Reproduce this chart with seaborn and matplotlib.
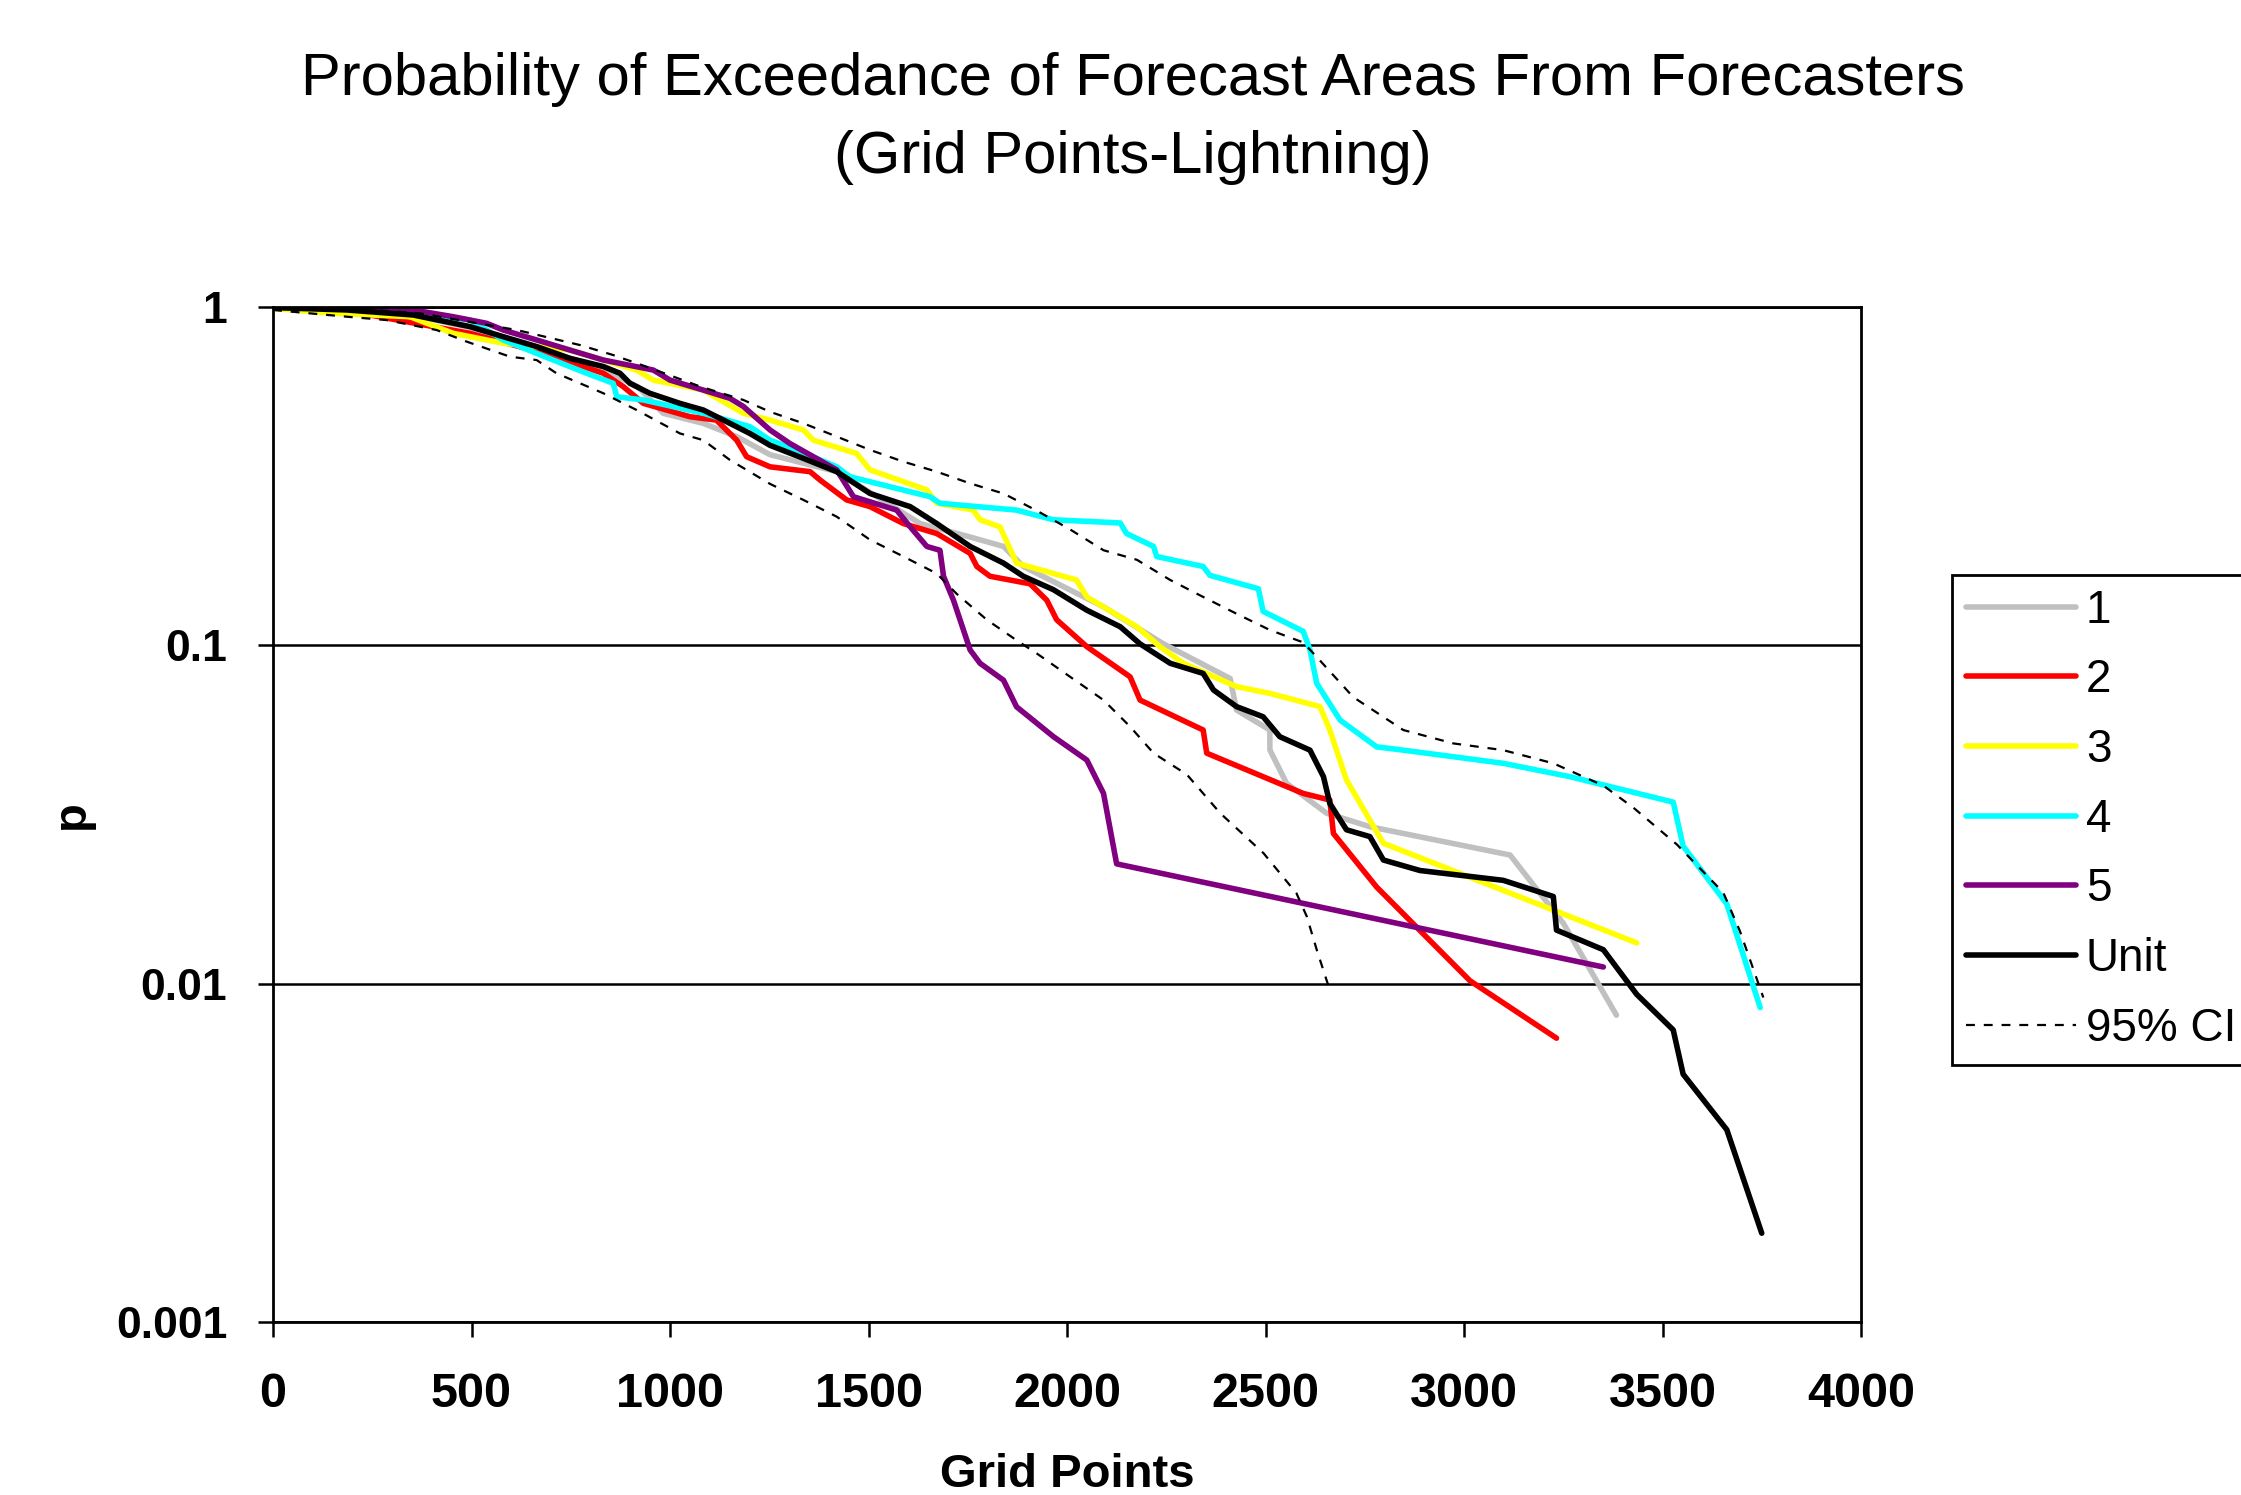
import matplotlib
matplotlib.use("Agg")
import matplotlib.pyplot as plt
import seaborn as sns

# series: grid points vs exceedance probability
x1 = [0, 186, 353, 496, 664, 832, 920, 983, 1084, 1168, 1252, 1420, 1630, 1756, 1840, 1890,
      2092, 2243, 2411, 2427, 2511, 2511, 2553, 2654, 2763, 3116, 3250, 3384]
p1 = [1.0, 0.98, 0.945, 0.87, 0.76, 0.655, 0.58, 0.485, 0.453, 0.414, 0.366, 0.326, 0.229, 0.209,
      0.196, 0.171, 0.130, 0.101, 0.0798, 0.0644, 0.0562, 0.0491, 0.0391, 0.0319, 0.0291, 0.0240,
      0.0151, 0.00807]

x2 = [0, 120, 244, 496, 664, 832, 882, 933, 1050, 1117, 1168, 1193, 1252, 1353, 1378, 1445, 1504,
      1588, 1672, 1756, 1773, 1806, 1907, 1949, 1974, 2050, 2159, 2184, 2343, 2352, 2595, 2662,
      2671, 2780, 3015, 3233]
p2 = [1.0, 0.975, 0.947, 0.836, 0.74, 0.637, 0.582, 0.519, 0.474, 0.463, 0.404, 0.361, 0.337,
      0.326, 0.308, 0.269, 0.257, 0.229, 0.214, 0.187, 0.171, 0.160, 0.152, 0.136, 0.119, 0.0991,
      0.0807, 0.0689, 0.0562, 0.0480, 0.0365, 0.0349, 0.0278, 0.0193, 0.0102, 0.0069]

x3 = [0, 160, 345, 454, 580, 748, 832, 916, 958, 1084, 1185, 1252, 1336, 1361, 1470, 1504, 1647,
      1672, 1764, 1781, 1831, 1873, 2024, 2050, 2176, 2234, 2293, 2427, 2511, 2637, 2662, 2704,
      2797, 3435]
p3 = [0.99, 0.957, 0.936, 0.836, 0.781, 0.746, 0.697, 0.651, 0.608, 0.568, 0.485, 0.463, 0.433,
      0.404, 0.369, 0.330, 0.288, 0.263, 0.251, 0.235, 0.224, 0.175, 0.156, 0.139, 0.1135, 0.0991,
      0.0885, 0.0755, 0.0721, 0.0659, 0.0562, 0.0400, 0.0260, 0.0132]

x4 = [0, 219, 496, 580, 706, 790, 857, 866, 933, 1084, 1201, 1252, 1319, 1420, 1453, 1655, 1680,
      1873, 1966, 2134, 2150, 2218, 2226, 2343, 2360, 2482, 2494, 2595, 2612, 2629, 2688, 2780,
      2847, 3099, 3267, 3527, 3552, 3662, 3746]
p4 = [1.0, 1.0, 0.915, 0.799, 0.697, 0.637, 0.595, 0.543, 0.531, 0.485, 0.443, 0.404, 0.378,
      0.337, 0.315, 0.275, 0.263, 0.251, 0.235, 0.230, 0.214, 0.196, 0.183, 0.171, 0.161, 0.147,
      0.126, 0.110, 0.097, 0.0772, 0.0601, 0.0501, 0.0490, 0.0448, 0.0409, 0.0344, 0.0255, 0.0172,
      0.0085]

x5 = [0, 186, 353, 454, 538, 580, 664, 748, 832, 958, 1000, 1084, 1151, 1185, 1252, 1302, 1420,
      1462, 1571, 1605, 1647, 1680, 1689, 1714, 1756, 1781, 1840, 1873, 1966, 2050, 2092, 2125,
      3351]
p5 = [1.0, 1.0, 0.980, 0.936, 0.895, 0.855, 0.799, 0.746, 0.697, 0.651, 0.608, 0.568, 0.537, 0.508,
      0.433, 0.395, 0.330, 0.275, 0.251, 0.224, 0.196, 0.191, 0.160, 0.136, 0.0969, 0.0885, 0.0789,
      0.0658, 0.0537, 0.0458, 0.0365, 0.0226, 0.0112]

x_unit = [0, 186, 353, 496, 580, 664, 748, 832, 874, 899, 949, 1025, 1084, 1151, 1201, 1252, 1336,
          1420, 1504, 1605, 1672, 1756, 1840, 1890, 1966, 2050, 2134, 2184, 2260, 2343, 2369, 2427,
          2494, 2536, 2612, 2646, 2662, 2704, 2763, 2797, 2889, 3099, 3225, 3233, 3351, 3435, 3527,
          3552, 3662, 3750]
p_unit = [0.996, 0.980, 0.947, 0.875, 0.817, 0.764, 0.705, 0.667, 0.637, 0.595, 0.556, 0.519,
          0.496, 0.453, 0.423, 0.390, 0.357, 0.326, 0.281, 0.257, 0.229, 0.196, 0.175, 0.160, 0.146,
          0.127, 0.1135, 0.101, 0.0885, 0.0826, 0.0738, 0.0659, 0.0615, 0.0537, 0.0490, 0.0409,
          0.0341, 0.0285, 0.0272, 0.0232, 0.0216, 0.0202, 0.0181, 0.0144, 0.0126, 0.0093, 0.0073,
          0.0054, 0.0037, 0.00183]

x_ci_hi = [0, 200, 370, 614, 773, 857, 941, 1076, 1185, 1252, 1336, 1420, 1504, 1588, 1672, 1756,
           1840, 1924, 2008, 2092, 2176, 2260, 2343, 2427, 2511, 2595, 2629, 2721, 2847, 2973, 3099,
           3225, 3351, 3427, 3536, 3653, 3695, 3754]
p_ci_hi = [1.0, 0.99, 0.958, 0.855, 0.772, 0.721, 0.666, 0.582, 0.531, 0.49, 0.453, 0.414, 0.378,
           0.349, 0.326, 0.301, 0.281, 0.250, 0.220, 0.191, 0.179, 0.156, 0.139, 0.124, 0.111,
           0.102, 0.0924, 0.0703, 0.0562, 0.0513, 0.0490, 0.0448, 0.0385, 0.0331, 0.0258, 0.0186,
           0.0143, 0.0091]

x_ci_lo = [0, 186, 286, 412, 488, 597, 664, 714, 832, 916, 1025, 1084, 1151, 1252, 1336, 1420,
           1504, 1588, 1672, 1722, 1798, 1873, 1924, 2008, 2092, 2159, 2218, 2302, 2386, 2495,
           2578, 2604, 2629, 2662]
p_ci_lo = [0.98, 0.936, 0.915, 0.855, 0.79, 0.713, 0.697, 0.637, 0.556, 0.496, 0.423, 0.404, 0.353,
           0.300, 0.269, 0.240, 0.205, 0.183, 0.163, 0.142, 0.119, 0.1035, 0.0946, 0.0807, 0.0689,
           0.0575, 0.048, 0.0415, 0.0319, 0.0243, 0.0185, 0.0158, 0.0126, 0.00957]

labels = ["1", "2", "3", "4", "5", "Unit"]
colors = ["#C0C0C0", "#FF0000", "#FFFF00", "#00FFFF", "#800080", "#000000"]
xs = [x1, x2, x3, x4, x5, x_unit]
ps = [p1, p2, p3, p4, p5, p_unit]

x_ticks = [0, 500, 1000, 1500, 2000, 2500, 3000, 3500, 4000]
y_ticks = [0.001, 0.01, 0.1, 1]
y_tick_labels = ["0.001", "0.01", "0.1", "1"]

sns.set_theme(style="white")
plt.rcParams["font.family"] = ["Liberation Sans", "DejaVu Sans"]
plt.rcParams["text.color"] = "black"
plt.rcParams["axes.labelcolor"] = "black"
plt.rcParams["xtick.color"] = "black"
plt.rcParams["ytick.color"] = "black"

fig = plt.figure(figsize=(11.205, 7.475), dpi=200)
ax = fig.add_axes([273 / 2241, 1 - 1322 / 1495, 1588 / 2241, 1015 / 1495])

for x, p, lab, c in zip(xs, ps, labels, colors):
    sns.lineplot(x=x, y=p, ax=ax, color=c, lw=2.0, label=lab,
                 estimator=None, sort=False)

sns.lineplot(x=x_ci_hi, y=p_ci_hi, ax=ax, color="black", lw=0.8, label="95% CI",
             estimator=None, sort=False)
sns.lineplot(x=x_ci_lo, y=p_ci_lo, ax=ax, color="black", lw=0.8,
             estimator=None, sort=False)
for ln in ax.lines[-2:]:
    ln.set_dashes((4, 4))

ax.set_yscale("log")
ax.set_ylim(0.001, 1)
ax.set_xlim(0, 4000)
ax.set_yticks(y_ticks)
ax.set_yticklabels(y_tick_labels)
ax.minorticks_off()
ax.set_xticks(x_ticks)
ax.set_xticklabels([str(t) for t in x_ticks])

ax.yaxis.grid(True, color="black", lw=0.9)
ax.set_axisbelow(True)
for s in ax.spines.values():
    s.set_visible(True)
    s.set_color("black")
    s.set_linewidth(1.0)

ax.tick_params(axis="x", direction="out", length=5.5, width=0.9, color="black",
               bottom=True, pad=12.5, labelsize=17.5)
ax.tick_params(axis="y", direction="out", length=5.5, width=0.9, color="black",
               left=True, pad=11, labelsize=16)
for t in ax.get_xticklabels() + ax.get_yticklabels():
    t.set_fontweight("bold")

ax.set_xlabel("Grid Points", fontsize=17, fontweight="bold", labelpad=13)
ax.set_ylabel("p", fontsize=17, fontweight="bold", labelpad=8)

fig.text(0.5056, 1 - 95 / 1495, "Probability of Exceedance of Forecast Areas From Forecasters",
         ha="center", va="baseline", fontsize=21.5)
fig.text(0.5056, 1 - 173 / 1495, "(Grid Points-Lightning)",
         ha="center", va="baseline", fontsize=21.5)

leg = ax.legend(loc="upper left", bbox_to_anchor=(1952 / 2241, 1 - 575 / 1495),
                bbox_transform=fig.transFigure, borderaxespad=0, fontsize=16.5,
                frameon=True, fancybox=False, shadow=False, framealpha=1,
                edgecolor="black", borderpad=0.3, labelspacing=0.56,
                handlelength=2.4, handletextpad=0.22)
leg.get_frame().set_linewidth(1.0)

fig.savefig("out.png", dpi=200)
